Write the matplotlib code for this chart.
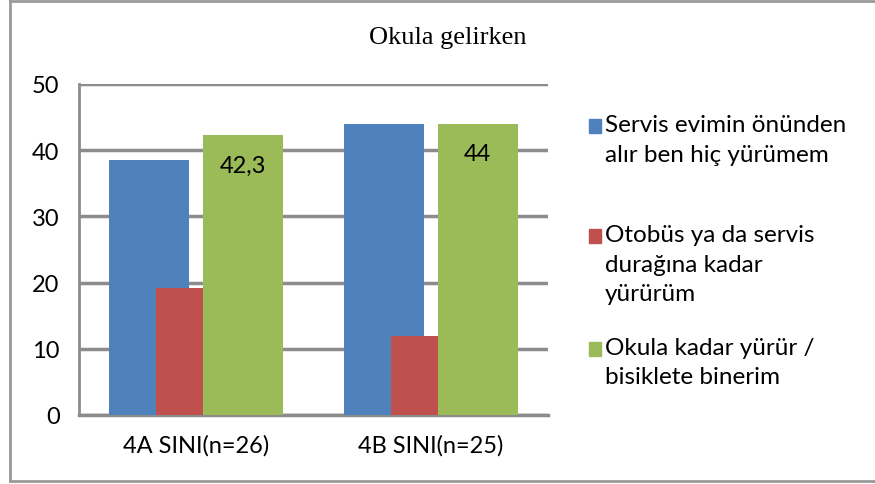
import numpy as np
import matplotlib.pyplot as plt
from matplotlib.patches import Rectangle
from matplotlib.lines import Line2D

# data
categories = ["4A SINI(n=26)", "4B SINI(n=25)"]
servis = [38.5, 44]
otobus = [19.2, 12]
yurur = [42.3, 44]
series_labels = ["Servis evimin önünden\nalır ben hiç yürümem",
                 "Otobüs ya da servis\ndurağına kadar\nyürürüm",
                 "Okula kadar yürür /\nbisiklete binerim"]
green_labels = ["42,3", "44"]

colors = ["#4F81BD", "#C0504D", "#9BBB59"]
grid_color = "#8C8C8C"
sans = ["Lato", "DejaVu Sans"]

fig = plt.figure(figsize=(8.75, 4.85), dpi=100)
ax = fig.add_axes([79 / 875, 1 - 416 / 485, (548 - 79) / 875, (416 - 85) / 485])

x = np.arange(len(categories))
width = 0.34
step = 0.2
for i, vals in enumerate([servis, otobus, yurur]):
    ax.bar(x + (i - 1) * step, vals, width, color=colors[i], zorder=3 + i)

# data labels on the green bars, inside the top
for xi, v, lab in zip(x, yurur, green_labels):
    ax.annotate(lab, (xi + step, v), xytext=(0, -14), textcoords="offset points",
                ha="center", va="top", fontsize=17, family=sans, zorder=10)

ax.set_xlim(-0.5, 1.5)
ax.set_ylim(0, 50)
ax.set_yticks(range(0, 51, 10))
ax.set_xticks(x)
ax.set_xticklabels(categories)
ax.yaxis.grid(True, color=grid_color, linewidth=2.5, zorder=0)
ax.set_axisbelow(True)
for s in ["top", "right"]:
    ax.spines[s].set_visible(False)
ax.spines["left"].set_color(grid_color)
ax.spines["left"].set_linewidth(2)
ax.spines["bottom"].set_color(grid_color)
ax.spines["bottom"].set_linewidth(2.5)
ax.tick_params(length=0, labelsize=17, pad=14)
ax.tick_params(axis="x", pad=14)
for lab in ax.get_xticklabels() + ax.get_yticklabels():
    lab.set_family(sans)

fig.text(448 / 875, 1 - 38 / 485, "Okula gelirken", ha="center", va="center",
         fontsize=19, family="Liberation Serif")

# legend items placed one by one, as in the reference
legend_y = [127, 237, 350]
for c, lab, yy in zip(colors, series_labels, legend_y):
    fig.patches.append(Rectangle((589 / 875, 1 - (yy + 7) / 485), 12 / 875, 14 / 485,
                                 transform=fig.transFigure, color=c))
    fig.text(605 / 875, 1 - (yy - 12) / 485, lab, ha="left", va="top",
             fontsize=17.5, family=sans, linespacing=1.5)

# outer frame (open on the right)
frame = dict(transform=fig.transFigure, color="#999999", linewidth=2)
fig.lines.append(Line2D([10 / 875, 1], [1 - 2 / 485, 1 - 2 / 485], **frame))
fig.lines.append(Line2D([10 / 875, 10 / 875], [1 - 2 / 485, 1 - 482 / 485], **frame))
fig.lines.append(Line2D([10 / 875, 1], [1 - 482 / 485, 1 - 482 / 485], **frame))

plt.savefig("out.png", dpi=100)
